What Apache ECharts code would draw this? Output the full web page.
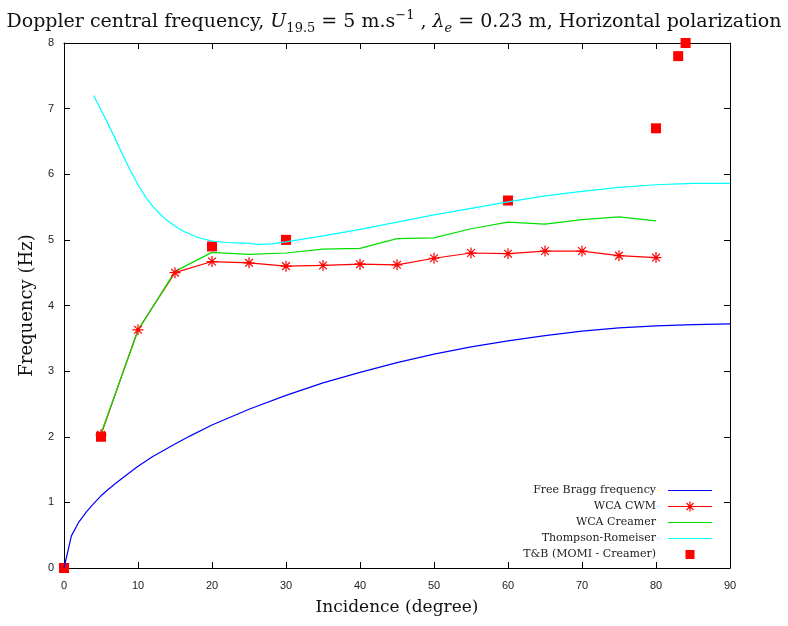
<!DOCTYPE html>
<html>
<head>
<meta charset="utf-8">
<script src="https://cdn.jsdelivr.net/npm/echarts@6/dist/echarts.min.js"></script>
<style>html,body{margin:0;padding:0;background:#fff;}#c{width:788px;height:626px;}</style>
</head>
<body>
<div id="c"></div>
<script>
// ---- data ----
const braggX = [0,1,2,3,4,5,6,7,8,10,12,15,17,20,25,30,35,40,45,50,55,60,65,70,75,80,85,90];
const braggY = [0,0.49,0.70,0.85,0.98,1.10,1.20,1.29,1.38,1.55,1.70,1.89,2.01,2.18,2.42,2.63,2.82,2.98,3.13,3.26,3.37,3.46,3.54,3.61,3.66,3.69,3.71,3.72];

const wcaX = [5,10,15,20,25,30,35,40,45,50,55,60,65,70,75,80];
const cwmY = [2.03,3.63,4.50,4.67,4.65,4.60,4.61,4.63,4.62,4.72,4.80,4.79,4.83,4.83,4.76,4.73];
const creamerY = [2.05,3.62,4.52,4.81,4.78,4.80,4.86,4.87,5.02,5.03,5.17,5.27,5.24,5.31,5.35,5.29];

const trX = [4,5,6,7,8,9,10,11,12,13,14,15,16,18,20,22,24,25,26,28,30,35,40,45,50,55,60,65,70,75,80,85,90];
const trY = [7.20,6.98,6.76,6.52,6.28,6.05,5.84,5.66,5.51,5.39,5.29,5.21,5.14,5.04,4.98,4.96,4.95,4.95,4.93,4.94,4.97,5.06,5.16,5.27,5.38,5.48,5.58,5.67,5.74,5.80,5.84,5.86,5.86];

const tbX = [0,5,20,30,60,80,83,84];
const tbY = [0,2.0,4.9,5.0,5.6,6.7,7.8,8.0];

const seriesNames = ['Free Bragg frequency','WCA CWM','WCA Creamer','Thompson-Romeiser','T&B (MOMI - Creamer)'];
const xTicks = {min:0, max:90, interval:10};
const yTicks = {min:0, max:8, interval:1};

const zip = (xs, ys) => xs.map((x, i) => [x, ys[i]]);

const serif = 'DejaVu Serif';
const sans = 'Liberation Sans';
const asterisk = 'path://M0,5L10,5M5,0L5,10M1.5,1.5L8.5,8.5M8.5,1.5L1.5,8.5';
// legend icons (extent points keep the icon box 44x10)
const lineIcon = 'path://M0,0L0,0M44,10L44,10M0,4.4L44,4.4L44,5.6L0,5.6Z';
const lineStarIcon = 'path://M0,0L0,0M44,10L44,10M0,4.4L44,4.4L44,5.6L0,5.6Z'
  + 'M21.4,0L22.6,0L22.6,10L21.4,10Z'
  + 'M18.92,1.08L25.92,8.08L25.08,8.92L18.08,1.92Z'
  + 'M25.08,1.08L25.92,1.92L18.92,8.92L18.08,8.08Z';
const squareIcon = 'path://M0,0L0,0M44,10L44,10M17.5,0.5L26.5,0.5L26.5,9.5L17.5,9.5Z';

const chart = echarts.init(document.getElementById('c'), null, {renderer:'canvas'});

const axisLine = {show:true, onZero:false, lineStyle:{color:'#000', width:1}};
const tick = {show:true, inside:true, length:6, lineStyle:{color:'#000'}};

chart.setOption({
  animation:false,
  backgroundColor:'#fff',
  title:{
    left:'center', top:4,
    text:'Doppler central frequency, {i|U}{sub|19.5}{n| = 5 m.s}{sup|\u22121}{n| , }{i|\u03bb}{subi|e}{n| = 0.23 m, Horizontal polarization}',
    textStyle:{
      fontFamily:serif, fontSize:19, fontWeight:'normal', color:'#111', lineHeight:26,
      rich:{
        n:{fontFamily:serif, fontSize:19, color:'#111', lineHeight:26},
        i:{fontFamily:serif, fontSize:19, fontStyle:'italic', color:'#111', lineHeight:26},
        sub:{fontFamily:serif, fontSize:13, color:'#111', verticalAlign:'bottom', lineHeight:15},
        subi:{fontFamily:serif, fontSize:13, fontStyle:'italic', color:'#111', verticalAlign:'bottom', lineHeight:15},
        sup:{fontFamily:serif, fontSize:13, color:'#111', verticalAlign:'top', lineHeight:15}
      }
    }
  },
  grid:{left:64, right:58, top:43, bottom:58, containLabel:false},
  legend:{
    orient:'vertical', right:71, bottom:61, align:'right',
    itemWidth:44, itemHeight:10, itemGap:5,
    itemStyle:{borderWidth:0},
    textStyle:{fontFamily:serif, fontSize:11, color:'#222', padding:[0,7,0,0]},
    data:[
      {name:seriesNames[0], icon:lineIcon},
      {name:seriesNames[1], icon:lineStarIcon},
      {name:seriesNames[2], icon:lineIcon},
      {name:seriesNames[3], icon:lineIcon},
      {name:seriesNames[4], icon:squareIcon}
    ]
  },
  xAxis:[{
    type:'value', ...xTicks, position:'bottom',
    name:'Incidence (degree)', nameLocation:'middle', nameGap:31,
    nameTextStyle:{fontFamily:serif, fontSize:17, color:'#111'},
    axisLine, axisTick:tick, splitLine:{show:false},
    axisLabel:{fontFamily:sans, fontSize:11, color:'#222', margin:12}
  },{
    type:'value', ...xTicks, position:'top',
    axisLine, axisTick:tick, splitLine:{show:false}, axisLabel:{show:false}
  }],
  yAxis:[{
    type:'value', ...yTicks, position:'left',
    name:'Frequency (Hz)', nameLocation:'middle', nameGap:28,
    nameTextStyle:{fontFamily:serif, fontSize:18, color:'#111'},
    axisLine, axisTick:tick, splitLine:{show:false},
    axisLabel:{fontFamily:sans, fontSize:11, color:'#222', margin:10}
  },{
    type:'value', ...yTicks, position:'right',
    axisLine, axisTick:tick, splitLine:{show:false}, axisLabel:{show:false}
  }],
  series:[
    {name:seriesNames[0], type:'line', data:zip(braggX, braggY), symbol:'none', color:'#0000ff',
     lineStyle:{width:1.2, color:'#0000ff'}},
    {name:seriesNames[1], type:'line', data:zip(wcaX, cwmY), symbol:asterisk, symbolSize:11, color:'#ff0000',
     showAllSymbol:true,
     itemStyle:{color:'#ff0000', borderColor:'#ff0000', borderWidth:1.2},
     lineStyle:{width:1.2, color:'#ff0000'}},
    {name:seriesNames[2], type:'line', data:zip(wcaX, creamerY), symbol:'none', color:'#00e000',
     lineStyle:{width:1.2, color:'#00e000'}},
    {name:seriesNames[3], type:'line', data:zip(trX, trY), symbol:'none', color:'#00ffff',
     lineStyle:{width:1.2, color:'#00ffff'}},
    {name:seriesNames[4], type:'scatter', data:zip(tbX, tbY), symbol:'rect', symbolSize:10, clip:false,
     color:'#ff0000', itemStyle:{color:'#ff0000', opacity:1}}
  ]
});
</script>
</body>
</html>
